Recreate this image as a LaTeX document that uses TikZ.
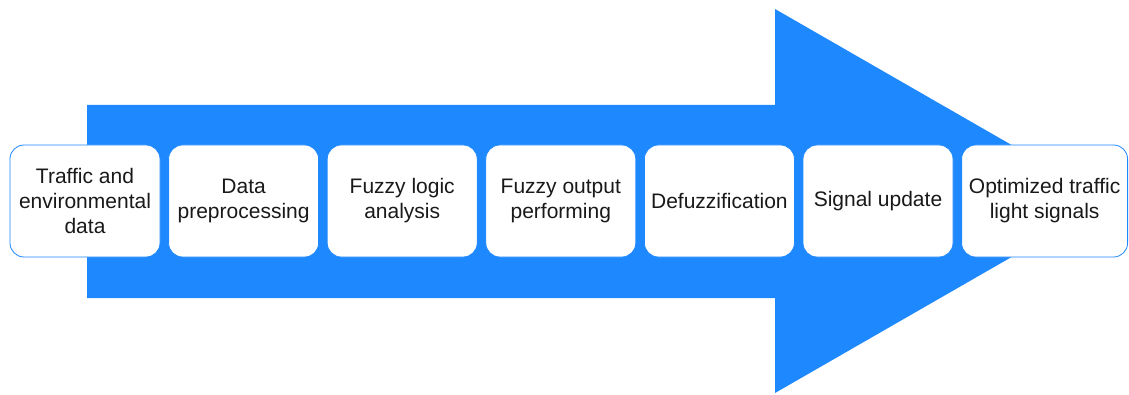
\documentclass[tikz,border=0pt]{standalone}
\usepackage{fontspec}
\setmainfont{Liberation Sans}
\usetikzlibrary{positioning}
\definecolor{flowblue}{HTML}{1E88FF}
\tikzset{
  stage/.style={draw=flowblue, fill=white, line width=0.8pt,
    rounded corners=14pt, minimum width=150pt, minimum height=112pt,
    inner sep=2pt, align=center, text=black!90,
    font=\fontsize{21}{25}\selectfont}
}
\begin{document}
\begin{tikzpicture}[x=1pt,y=1pt]
      \useasboundingbox (0,0) rectangle (1129,394);
      % big process arrow behind the stages
      \fill[flowblue] (87,96) -- (87,289) -- (775,289) -- (775,385)
        -- (1109,193) -- (775,1) -- (775,96) -- cycle;
      \node[stage] (0) at (85,193) {Traffic and\\environmental\\data};
      \node[stage, right=7.8pt of 0] (1) {Data\\preprocessing};
      \node[stage, right=7.8pt of 1] (2) {Fuzzy logic\\analysis};
      \node[stage, right=7.8pt of 2] (3) {Fuzzy output\\performing};
      \node[stage, right=7.8pt of 3] (4) {Defuzzification};
      \node[stage, right=7.8pt of 4] (5) {Signal update};
      \node[stage, right=7.8pt of 5, minimum width=166pt] (6) {Optimized traffic\\light signals};
    \end{tikzpicture}
\end{document}
